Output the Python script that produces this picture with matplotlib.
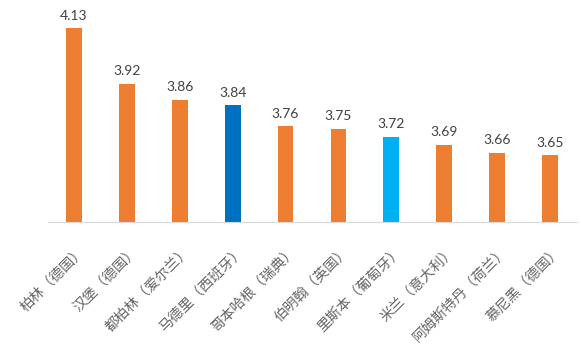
import matplotlib.pyplot as plt
from matplotlib.transforms import ScaledTranslation

plt.rcParams['font.family'] = ['Noto Sans CJK SC', 'DejaVu Sans']

cities = ["柏林（德国）", "汉堡（德国）", "都柏林（爱尔兰）", "马德里（西班牙）",
          "哥本哈根（瑞典）", "伯明翰（英国）", "里斯本（葡萄牙）", "米兰（意大利）",
          "阿姆斯特丹（荷兰）", "慕尼黑（德国）"]
values = [4.13, 3.92, 3.86, 3.84, 3.76, 3.75, 3.72, 3.69, 3.66, 3.65]
colors = ["#ED7D31", "#ED7D31", "#ED7D31", "#0070C0", "#ED7D31",
          "#ED7D31", "#00B0F0", "#ED7D31", "#ED7D31", "#ED7D31"]

W, H = 581, 358
fig = plt.figure(figsize=(W / 100, H / 100), dpi=100)
y0, y1 = 3.4, 4.23
ppu = 264.4
ax_h = (y1 - y0) * ppu
base = 221.5
ax = fig.add_axes([47.5 / W, (H - base) / H, 529 / W, ax_h / H])

x = range(len(values))
ax.bar(x, [v - y0 for v in values], bottom=y0, width=0.3, color=colors)
for i, v in enumerate(values):
    ax.text(i, v + 0.025, f"{v:.2f}", ha="center", va="bottom",
            fontsize=10, color="#404040", family=["Lato", "DejaVu Sans"])

ax.set_xlim(-0.5, len(values) - 0.5)
ax.set_ylim(y0, y1)
for s in ("top", "right", "left"):
    ax.spines[s].set_visible(False)
ax.spines["bottom"].set_color("#D9D9D9")
ax.set_yticks([])
ax.set_xticks(list(x))
labels = ax.set_xticklabels(cities, rotation=45, ha="right", rotation_mode="anchor",
                            fontsize=10.3, color="#666666")
ax.tick_params(axis="x", length=0, pad=16)
shift = ScaledTranslation(4 / 100, 0, fig.dpi_scale_trans)
for lab in labels:
    lab.set_transform(lab.get_transform() + shift)

fig.savefig("out.png", dpi=100)
